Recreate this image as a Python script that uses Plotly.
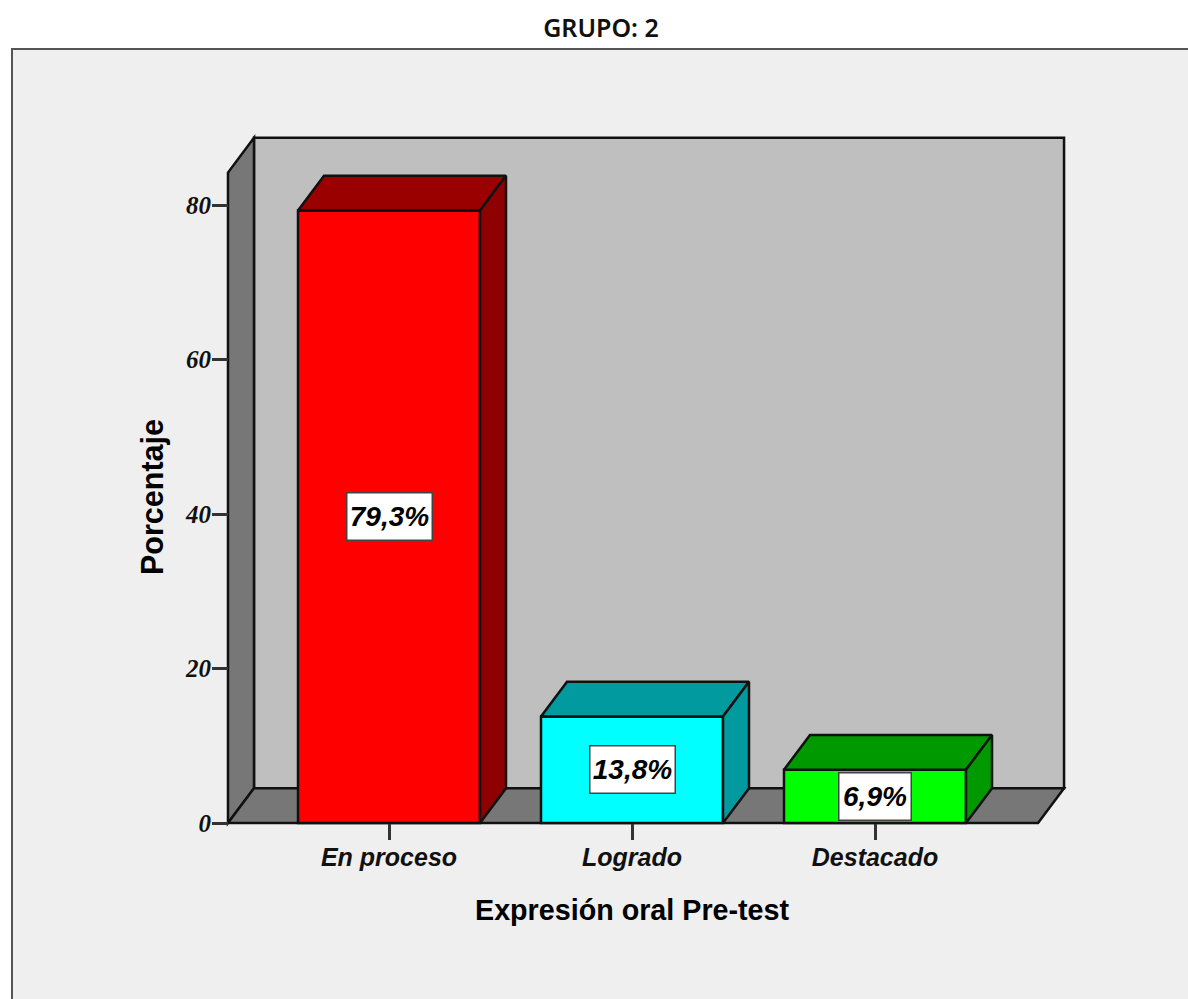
import plotly.graph_objects as go

# Data
categories = ["En proceso", "Logrado", "Destacado"]
values = [79.3, 13.8, 6.9]
labels = ["79,3%", "13,8%", "6,9%"]
y_ticks = [0, 20, 40, 60, 80]
front_colors = ["#ff0000", "#00ffff", "#00ff00"]
top_colors = ["#9b0000", "#009a9f", "#009900"]
side_colors = ["#8f0000", "#009a9f", "#009900"]
label_widths = [82, 82, 69]

# Geometry of the pseudo-3D frame, in axis units
BAR_W = 0.749
DX = 0.107
DY = 4.5
X_LEFT = -0.6626
X_RIGHT = 2.671
Y_TOP = 84.2
PX_X = 243.0
PX_Y = 7.725
W, H = 1188, 999
L, R, T, B = 220, 1072, 130, 831
ZERO_PX, FIRST_PX = 823, 389

x_range = [(L - FIRST_PX) / PX_X, (R - FIRST_PX) / PX_X]
y_range = [(ZERO_PX - B) / PX_Y, (ZERO_PX - T) / PX_Y]
def xp(px): return (px - L) / (R - L)
def yp(py): return (B - py) / (B - T)

def path(points):
    return "M" + " L".join(f"{x},{y}" for x, y in points) + " Z"

line = dict(color="#111111", width=2.5)
shapes = [
    dict(type="rect", xref="paper", yref="paper", x0=xp(12), x1=xp(1300), y0=yp(1100), y1=yp(49),
         fillcolor="#efefef", line=dict(color="#555555", width=2), layer="below"),
    dict(type="path", xref="x", yref="y", layer="below", fillcolor="#bfbfbf", line=line,
         path=path([(X_LEFT + DX, DY), (X_RIGHT + DX, DY), (X_RIGHT + DX, Y_TOP + DY), (X_LEFT + DX, Y_TOP + DY)])),
    dict(type="path", xref="x", yref="y", layer="below", fillcolor="#777777", line=line,
         path=path([(X_LEFT, 0), (X_LEFT + DX, DY), (X_LEFT + DX, Y_TOP + DY), (X_LEFT, Y_TOP)])),
    dict(type="path", xref="x", yref="y", layer="below", fillcolor="#777777", line=line,
         path=path([(X_LEFT, 0), (X_RIGHT, 0), (X_RIGHT + DX, DY), (X_LEFT + DX, DY)])),
]

fig = go.Figure()
positions = list(range(len(categories)))
fig.add_trace(go.Bar(x=positions, y=values, width=BAR_W, marker=dict(color=front_colors, line=dict(color="#111111", width=2.5)),
                     hoverinfo="skip", showlegend=False))
for i, v in enumerate(values):
    x0, x1 = i - BAR_W / 2, i + BAR_W / 2
    fig.add_trace(go.Scatter(x=[x0, x1, x1 + DX, x0 + DX, x0], y=[v, v, v + DY, v + DY, v], mode="lines", fill="toself",
                             fillcolor=top_colors[i], line=line, hoverinfo="skip", showlegend=False))
    fig.add_trace(go.Scatter(x=[x1, x1 + DX, x1 + DX, x1, x1], y=[0, DY, v + DY, v, 0], mode="lines", fill="toself",
                             fillcolor=side_colors[i], line=line, hoverinfo="skip", showlegend=False))

annotations = []
for i, v in enumerate(values):
    annotations.append(dict(x=i, y=v / 2, xref="x", yref="y", text=labels[i], showarrow=False, width=label_widths[i], height=44,
                            xanchor="center", yanchor="middle",
                            bgcolor="white", bordercolor="#444444", borderwidth=1.5, borderpad=1,
                            font=dict(family="Liberation Sans", size=28, color="black", weight="bold", style="italic")))
annotations.append(dict(x=1, y=yp(910), xref="x", yref="paper", text="Expresión oral Pre-test", showarrow=False,
                        xanchor="center", yanchor="middle",
                        font=dict(family="Liberation Sans", size=28.7, color="black", weight="bold")))
annotations.append(dict(x=xp(152), y=(ZERO_PX - 497) / PX_Y, xref="paper", yref="y", text="Porcentaje", showarrow=False, textangle=-90,
                        xanchor="center", yanchor="middle",
                        font=dict(family="Liberation Sans", size=30.5, color="black", weight="bold")))

fig.update_layout(
    width=W, height=H, margin=dict(l=L, r=W - R, t=T, b=H - B, autoexpand=False),
    paper_bgcolor="white", plot_bgcolor="rgba(0,0,0,0)",
    title=dict(text="GRUPO: 2", x=601 / W, y=1 - 28 / H, xanchor="center", yanchor="middle", xref="container", yref="container",
               font=dict(family="Noto Sans", size=25, color="#111111", weight=600)),
    shapes=shapes, annotations=annotations,
    xaxis=dict(range=x_range, tickvals=positions, ticktext=categories, showgrid=False, zeroline=False,
               anchor="free", position=yp(ZERO_PX), ticks="outside", ticklen=16, tickwidth=2.5, tickcolor="#333333",
               ticklabelstandoff=-4,
               tickfont=dict(family="Liberation Sans", size=25, color="#111111", style="italic", weight="bold")),
    yaxis=dict(range=y_range, tickvals=y_ticks, showgrid=False, zeroline=False,
               anchor="free", position=xp(228), ticks="outside", ticklen=16, tickwidth=2.5, tickcolor="#333333",
               ticklabelstandoff=-4,
               tickfont=dict(family="Liberation Serif", size=25, color="#111111", style="italic", weight="bold")),
)
fig.write_html("out.html", config={"displayModeBar": False}, post_script="document.body.style.margin='0';")
